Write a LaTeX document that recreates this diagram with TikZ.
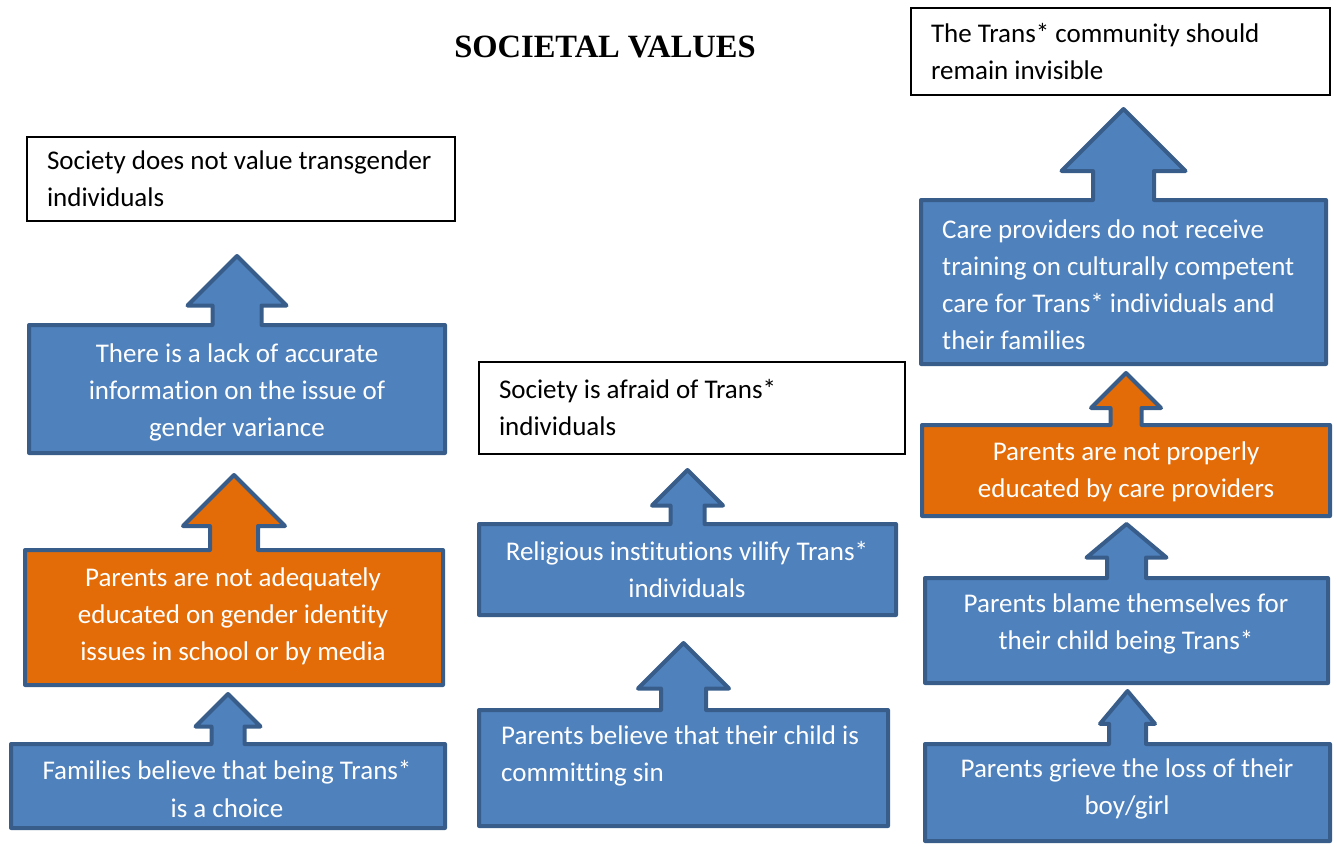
\documentclass[tikz,border=0pt]{standalone}
\usepackage{fontspec}
\usepackage{xcolor}
\usepackage{tikz}
\usetikzlibrary{shapes.arrows, positioning}
\newfontfamily\calibri[Ligatures=NoCommon]{Carlito}
\newfontfamily\timesfont{Liberation Serif}
\definecolor{calloutblue}{HTML}{4F81BD}
\definecolor{calloutborder}{HTML}{385D8A}
\definecolor{calloutorange}{HTML}{E36C09}
\tikzset{
    calloutnode/.style = {arrow box, draw=calloutborder, line width=4pt, line join=round, 
      inner sep=0pt, arrow box head indent=0pt, arrow box tip angle=90},
    bluenode/.style = {calloutnode, fill=calloutblue},
    orangenode/.style = {calloutnode, fill=calloutorange},
    boxnode/.style = {draw=black, line width=1.3pt, rectangle, fill=white, inner xsep=20pt, inner ysep=0pt, 
      align=flush left, font=\calibri\fontsize{27}{37}\selectfont},
    textnode/.style = {draw=none, fill=none, inner sep=0pt, text=white, align=center, 
      font=\calibri\fontsize{27}{37}\selectfont},
    titlenode/.style = {draw=none, inner sep=0pt, font=\timesfont\bfseries\fontsize{32.5}{38}\selectfont}
}

\begin{document}
\begin{tikzpicture}[x=1pt, y=-1pt]
    \useasboundingbox (0,0) rectangle (1337,846);
    \node [titlenode, name=title] at (605,47) {SOCIETAL VALUES};

    % top boxes
    \node [boxnode, name=novalue, minimum width=428pt, minimum height=84pt, text width=388pt] at (241,179) 
      {Society does not value transgender\\individuals};
    \node [boxnode, name=afraid, minimum width=426pt, minimum height=92pt, text width=386pt] at (692,408) 
      {Society is afraid of Trans*\\individuals};
    \node [boxnode, name=invisible, minimum width=419pt, minimum height=87pt, text width=379pt] at (1120.5,51.5) 
      {The Trans* community should\\remain invisible};

    % left column
    \node [bluenode, name=lackinfo, minimum width=416pt, minimum height=128pt, arrow box shaft width=49pt, 
      arrow box head extend=25pt, arrow box arrows={north:67pt}] at (237,389) {};
    \node [orangenode, name=school, minimum width=418pt, minimum height=135pt, arrow box shaft width=48pt, 
      arrow box head extend=27pt, arrow box arrows={north:73pt}] at (234,617.5) {};
    \node [bluenode, name=choice, minimum width=434pt, minimum height=84pt, arrow box shaft width=33pt, 
      arrow box head extend=16pt, arrow box arrows={north:48pt}] at (228,786) {};
    \node [textnode, name=lackinfotext] at (237,392) 
      {There is a lack of accurate\\information on the issue of\\gender variance};
    \node [textnode, name=schooltext] at (233,616) 
      {Parents are not adequately\\educated on gender identity\\issues in school or by media};
    \node [textnode, name=choicetext] at (227,789) {Families believe that being Trans*\\is a choice};

    % middle column
    \node [bluenode, name=religion, minimum width=417pt, minimum height=91pt, arrow box shaft width=34pt, 
      arrow box head extend=18.5pt, arrow box arrows={north:52pt}] at (687.5,569.5) {};
    \node [bluenode, name=sin, minimum width=409pt, minimum height=116pt, arrow box shaft width=45pt, 
      arrow box head extend=23pt, arrow box arrows={north:65pt}] at (683.5,768) {};
    \node [textnode, name=religiontext] at (687,570) {Religious institutions vilify Trans*\\individuals};
    \node [textnode, name=sintext, align=left, anchor=west] at (501,756) 
      {Parents believe that their child is\\committing sin};

    % right column
    \node [bluenode, name=training, minimum width=405pt, minimum height=164pt, arrow box shaft width=61pt, 
      arrow box head extend=31.5pt, arrow box arrows={north:89pt}] at (1123.5,282) {};
    \node [orangenode, name=educated, minimum width=408pt, minimum height=91pt, arrow box shaft width=31pt, 
      arrow box head extend=19.5pt, arrow box arrows={north:50pt}] at (1126,470.5) {};
    \node [bluenode, name=blame, minimum width=403pt, minimum height=105pt, arrow box shaft width=39pt, 
      arrow box head extend=20.5pt, arrow box arrows={north:52pt}, arrow box tip angle=100] at (1126.5,630.5) {};
    \node [bluenode, name=grieve, minimum width=405pt, minimum height=97pt, arrow box shaft width=37pt, 
      arrow box head extend=9pt, arrow box arrows={north:51pt}, arrow box tip angle=80] at (1127.5,792.5) {};
    \node [textnode, name=trainingtext, align=left, anchor=west] at (942,284.5) 
      {Care providers do not receive\\training on culturally competent\\care for Trans* individuals and\\their families};
    \node [textnode, name=educatedtext] at (1126,472) {Parents are not properly\\educated by care providers};
    \node [textnode, name=blametext] at (1126,624) {Parents blame themselves for\\their child being Trans*};
    \node [textnode, name=grievetext] at (1127,789) {Parents grieve the loss of their\\boy/girl};
\end{tikzpicture}
\end{document}
